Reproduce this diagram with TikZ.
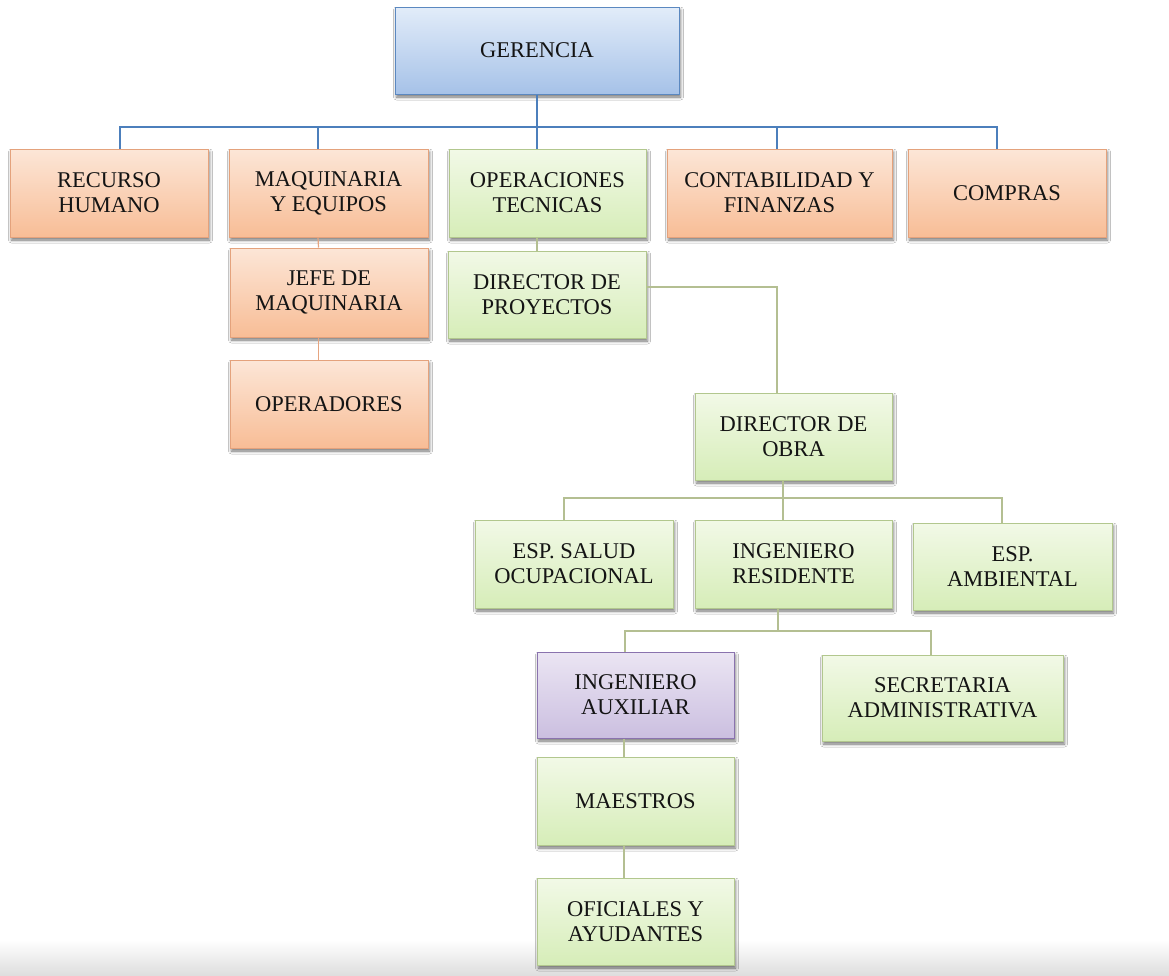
\documentclass[tikz,border=0pt]{standalone}
\usepackage{fontspec}
\setmainfont{Liberation Serif}
\usetikzlibrary{shadows,shadows.blur}
\definecolor{txt}{HTML}{141414}
\definecolor{ortop}{HTML}{FCE6D7}
\definecolor{orbot}{HTML}{F8BD96}
\definecolor{orline}{HTML}{E4A27C}
\definecolor{grtop}{HTML}{F2F9E7}
\definecolor{grbot}{HTML}{D6EDB8}
\definecolor{grline}{HTML}{B2C78E}
\definecolor{bltop}{HTML}{E2ECF9}
\definecolor{blbot}{HTML}{A6C2E8}
\definecolor{blline}{HTML}{5B88C0}
\definecolor{putop}{HTML}{EBE5F3}
\definecolor{pubot}{HTML}{CBBFE0}
\definecolor{puline}{HTML}{8A73AE}
\definecolor{blconn}{HTML}{4C7FBC}
\definecolor{orconn}{HTML}{E6A580}
\definecolor{grconn}{HTML}{B4BF92}
\begin{document}
\begin{tikzpicture}[x=1pt,y=-1pt,
  box/.style={rectangle, line width=1pt, align=center, text=txt,
    font=\fontsize{22.5}{25}\selectfont, inner sep=0pt,
    blur shadow={shadow xshift=1.5pt, shadow yshift=-3pt, shadow blur radius=3pt, shadow opacity=55}},
  orbox/.style={box, draw=orline, top color=ortop, bottom color=orbot},
  grbox/.style={box, draw=grline, top color=grtop, bottom color=grbot},
  blbox/.style={box, draw=blline, top color=bltop, bottom color=blbot},
  pubox/.style={box, draw=puline, top color=putop, bottom color=pubot},
  sz/.style 2 args={minimum width=#1pt, minimum height=#2pt},
  blc/.style={draw=blconn, line width=1.2pt},
  orc/.style={draw=orconn, line width=1.2pt},
  grc/.style={draw=grconn, line width=1.2pt}]
\useasboundingbox (0,0) rectangle (1169,975);
\fill[white] (0,0) rectangle (1169,975);
\shade[top color=white, bottom color=black!13] (0,940) rectangle (1169,975);

% nodes
\node[blbox, sz={284}{87}] (ger) at (537,50.5) {GERENCIA};
\node[orbox, sz={198}{88}] (rh) at (109,193) {RECURSO\\HUMANO};
\node[orbox, sz={199}{88}] (maq) at (328.5,193) {MAQUINARIA\\Y EQUIPOS};
\node[grbox, sz={197}{88}] (ope) at (547.5,193) {OPERACIONES\\TECNICAS};
\node[orbox, sz={225}{88}] (con) at (779.5,193) {CONTABILIDAD Y\\FINANZAS};
\node[orbox, sz={198}{88}] (com) at (1007,193) {COMPRAS};
\node[orbox, sz={198}{89}] (jefe) at (329,292.5) {JEFE DE\\MAQUINARIA};
\node[orbox, sz={198}{88}] (oper) at (329,404) {OPERADORES};
\node[grbox, sz={198}{87}] (dpro) at (547,294.5) {DIRECTOR DE\\PROYECTOS};
\node[grbox, sz={197}{87}] (dobra) at (793.5,436.5) {DIRECTOR DE\\OBRA};
\node[grbox, sz={198}{88}] (esal) at (574,564) {ESP. SALUD\\OCUPACIONAL};
\node[grbox, sz={197}{88}] (ires) at (793.5,564) {INGENIERO\\RESIDENTE};
\node[grbox, sz={199}{87}] (eamb) at (1012.5,566.5) {ESP.\\AMBIENTAL};
\node[pubox, sz={197}{86}] (iaux) at (635.5,695) {INGENIERO\\AUXILIAR};
\node[grbox, sz={241}{86}] (secr) at (942.5,698) {SECRETARIA\\ADMINISTRATIVA};
\node[grbox, sz={197}{88}] (maes) at (635.5,801) {MAESTROS};
\node[grbox, sz={197}{87}] (ofic) at (635.5,921.5) {OFICIALES Y\\AYUDANTES};

% bus points
\coordinate (bus1) at (537,127);
\coordinate (bus2) at (783,498);
\coordinate (bus3) at (778,631);

% top level
\draw[blc] (ger.south) -- (bus1);
\draw[blc] ([xshift=11pt]rh.north) |- (bus1) -| ([xshift=-10pt]com.north);
\draw[blc] ([xshift=-10.5pt]maq.north) -- ++(0,-22);
\draw[blc] ([xshift=-10.5pt]ope.north) -- ++(0,-22);
\draw[blc] ([xshift=-2.5pt]con.north) -- ++(0,-22);

% maquinaria chain
\draw[orc] ([xshift=-10.5pt]maq.south) -- ([xshift=-10.5pt]jefe.north);
\draw[orc] ([xshift=-10.5pt]jefe.south) -- ([xshift=-10.5pt]oper.north);

% operaciones chain
\draw[grc] ([xshift=-10.5pt]ope.south) -- ([xshift=-10pt]dpro.north);
\draw[grc] ([yshift=7.5pt]dpro.east) -| ([xshift=-16.5pt]dobra.north);
\draw[grc] ([xshift=-10.5pt]dobra.south) -- (bus2);
\draw[grc] ([xshift=-10pt]esal.north) |- (bus2) -| ([xshift=-10.5pt]eamb.north);
\draw[grc] (bus2) -- ([xshift=-10.5pt]ires.north);
\draw[grc] ([xshift=-15.5pt]ires.south) -- (bus3);
\draw[grc] ([xshift=-10.5pt]iaux.north) |- (bus3) -| ([xshift=-11.5pt]secr.north);
\draw[grc] ([xshift=-11.5pt]iaux.south) -- ([xshift=-11.5pt]maes.north);
\draw[grc] ([xshift=-11.5pt]maes.south) -- ([xshift=-11.5pt]ofic.north);
\end{tikzpicture}
\end{document}
